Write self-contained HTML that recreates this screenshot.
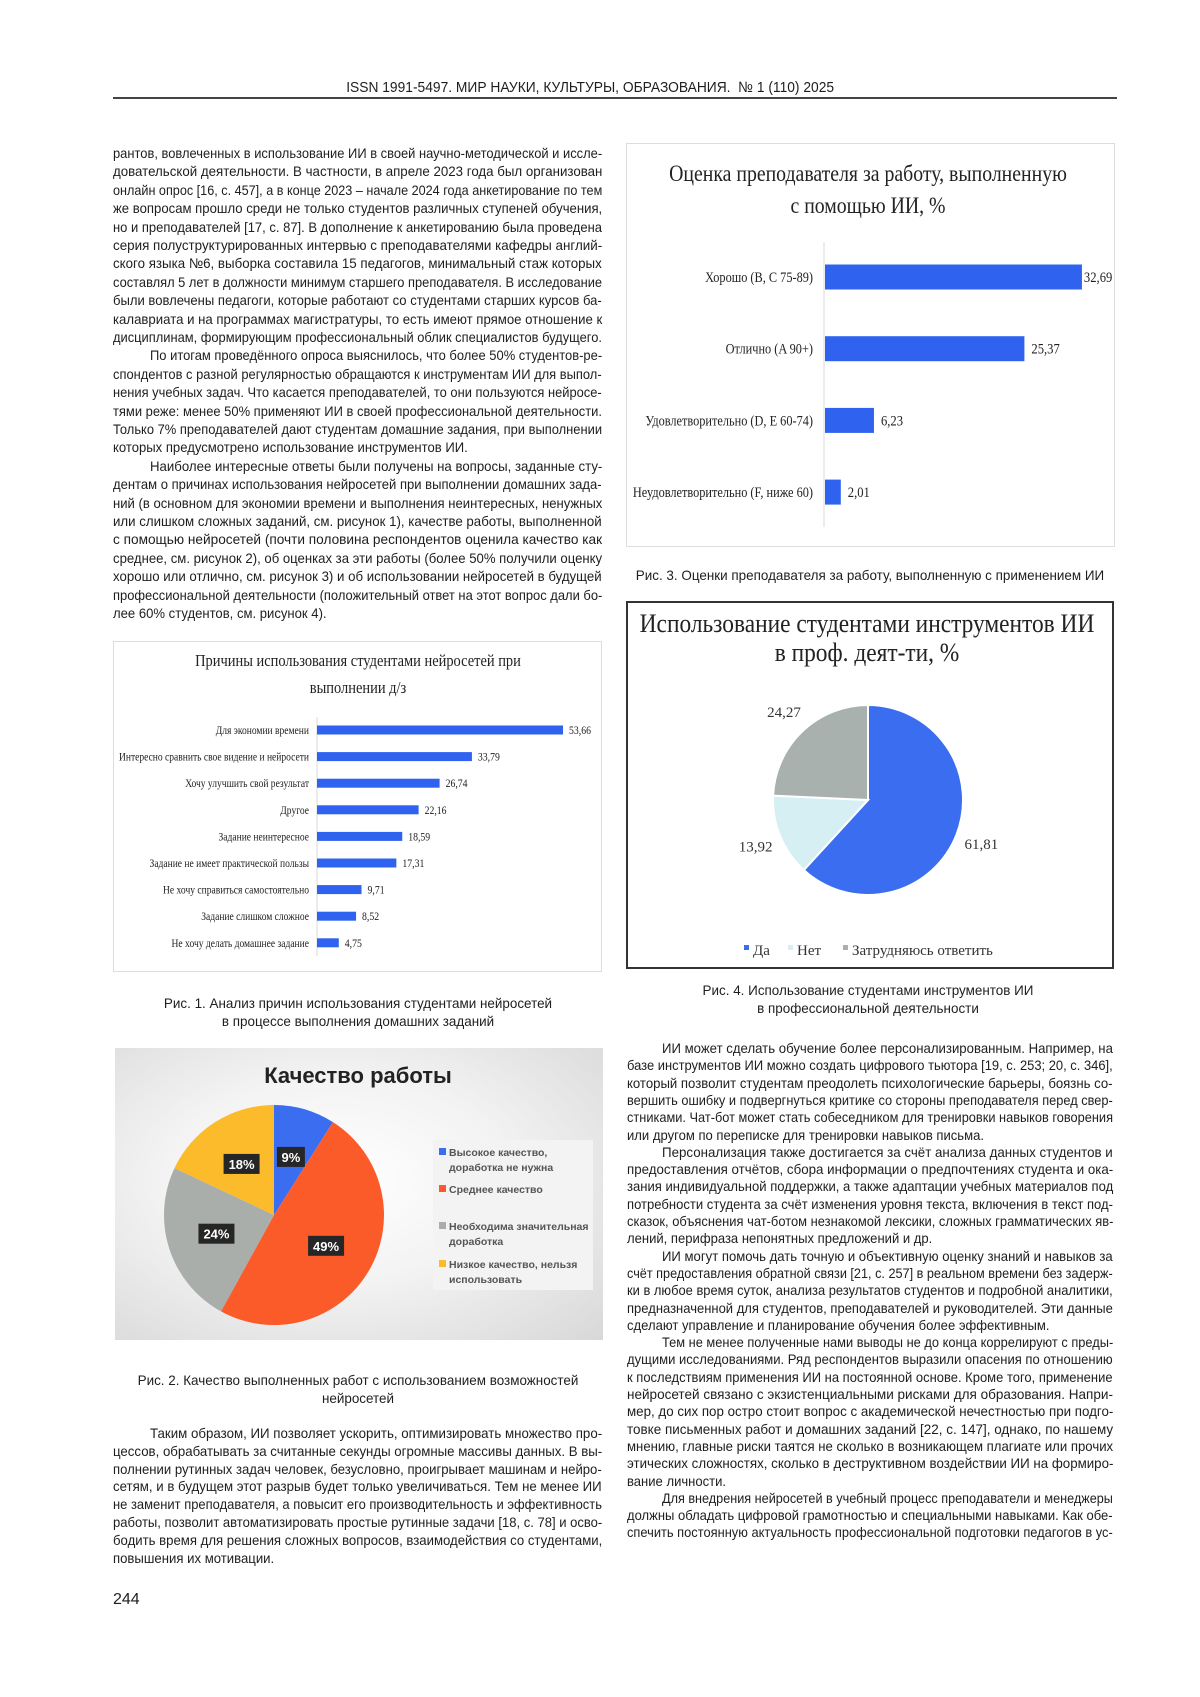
<!DOCTYPE html>
<html><head><meta charset="utf-8">
<style>
html,body{margin:0;padding:0;background:#fff;}
body{width:1200px;height:1697px;position:relative;overflow:hidden;font-family:"Liberation Sans","Noto Sans CJK SC",sans-serif;color:#1e1e1e;}
.ln{position:absolute;height:18px;line-height:18px;font-size:14px;white-space:nowrap;transform-origin:0 0;}
.cap{position:absolute;font-size:14px;text-align:center;line-height:18px;white-space:nowrap;transform:scaleX(0.96);transform-origin:50% 0;}
svg text{font-family:"Liberation Serif",serif;}
</style></head>
<body>

<div style="position:absolute;left:325px;top:78px;width:482px;font-size:15px;line-height:20px;white-space:nowrap;text-align:center;"><span style="display:inline-block;transform:scaleX(0.92);">ISSN 1991-5497. МИР НАУКИ, КУЛЬТУРЫ, ОБРАЗОВАНИЯ.&nbsp; № 1 (110) 2025</span></div>
<div style="position:absolute;left:113px;top:97px;width:1004px;height:2px;background:#444;"></div>

<div id="colA"></div>
<div id="colB"></div>
<div id="colC"></div>

<!-- Figure 1 -->
<div style="position:absolute;left:113px;top:641px;width:489px;height:331px;border:1px solid #ddd;box-sizing:border-box;"></div>
<svg id="fig1" width="1200" height="1697" style="position:absolute;left:0;top:0;pointer-events:none;">
<text x="358" y="666" text-anchor="middle" font-size="17" fill="#222" transform="translate(358 0) scale(0.85 1) translate(-358 0)">Причины использования студентами нейросетей при</text>
<text x="358" y="693" text-anchor="middle" font-size="17" fill="#222" transform="translate(358 0) scale(0.85 1) translate(-358 0)">выполнении д/з</text>
<line x1="317" y1="717" x2="317" y2="956" stroke="#d9d9d9" stroke-width="1"/>
</svg>
<div class="cap" style="left:58px;top:994px;width:600px;">Рис. 1. Анализ причин использования студентами нейросетей<br>в процессе выполнения домашних заданий</div>

<!-- Figure 2 -->
<div style="position:absolute;left:115px;top:1048px;width:488px;height:292px;background:radial-gradient(ellipse at 45% 45%,#ffffff 0%,#f3f3f3 45%,#d8d8d8 100%);"></div>
<svg id="fig2" width="1200" height="1697" style="position:absolute;left:0;top:0;pointer-events:none;">
<text x="358" y="1083" text-anchor="middle" font-size="22" font-weight="bold" fill="#222" style="font-family:'Liberation Sans',sans-serif;">Качество работы</text>
<rect x="433" y="1140" width="160" height="150" fill="#f3f3f3"/>
</svg>
<div class="cap" style="left:58px;top:1371px;width:600px;">Рис. 2. Качество выполненных работ с использованием возможностей<br>нейросетей</div>

<div style="position:absolute;left:113px;top:1590px;font-size:16px;line-height:20px;">244</div>

<!-- Figure 3 -->
<div style="position:absolute;left:626px;top:143px;width:489px;height:404px;border:1px solid #ddd;box-sizing:border-box;"></div>
<svg id="fig3" width="1200" height="1697" style="position:absolute;left:0;top:0;pointer-events:none;">
<text x="868" y="181" text-anchor="middle" font-size="23" fill="#222" transform="translate(868 0) scale(0.86 1) translate(-868 0)">Оценка преподавателя за работу, выполненную</text>
<text x="868" y="213" text-anchor="middle" font-size="23" fill="#222" transform="translate(868 0) scale(0.86 1) translate(-868 0)">с помощью ИИ, %</text>
<line x1="824" y1="242" x2="824" y2="527" stroke="#d9d9d9" stroke-width="1"/>
</svg>
<div class="cap" style="left:570px;top:566px;width:600px;">Рис. 3. Оценки преподавателя за работу, выполненную с применением ИИ</div>

<!-- Figure 4 -->
<div style="position:absolute;left:626px;top:601px;width:488px;height:368px;border:2px solid #333;box-sizing:border-box;"></div>
<svg id="fig4" width="1200" height="1697" style="position:absolute;left:0;top:0;pointer-events:none;">
<text x="867" y="632" text-anchor="middle" font-size="26" fill="#222" transform="translate(867 0) scale(0.9 1) translate(-867 0)">Использование студентами инструментов ИИ</text>
<text x="867" y="661" text-anchor="middle" font-size="26" fill="#222" transform="translate(867 0) scale(0.9 1) translate(-867 0)">в проф. деят-ти, %</text>
</svg>
<div class="cap" style="left:568px;top:981px;width:600px;">Рис. 4. Использование студентами инструментов ИИ<br>в профессиональной деятельности</div>

<script>
// ---------- chart data ----------
const cats1 = ["Для экономии времени","Интересно сравнить свое видение и нейросети","Хочу улучшить свой результат","Другое","Задание неинтересное","Задание не имеет практической пользы","Не хочу справиться самостоятельно","Задание слишком сложное","Не хочу делать домашнее задание"];
const vals1 = [53.66,33.79,26.74,22.16,18.59,17.31,9.71,8.52,4.75];
const labels1 = ["53,66","33,79","26,74","22,16","18,59","17,31","9,71","8,52","4,75"];

const cats2 = ["Высокое качество, доработка не нужна","Среднее качество","Необходима значительная доработка","Низкое качество, нельзя использовать"];
const vals2 = [9,49,24,18];

const cats3 = ["Хорошо (B, C 75-89)","Отлично (A 90+)","Удовлетворительно (D, E 60-74)","Неудовлетворительно (F, ниже 60)"];
const vals3 = [32.69,25.37,6.23,2.01];
const labels3 = ["32,69","25,37","6,23","2,01"];

const cats4 = ["Да","Нет","Затрудняюсь ответить"];
const vals4 = [61.81,13.92,24.27];
const labels4 = ["61,81","13,92","24,27"];

const NS="http://www.w3.org/2000/svg";
function mk(parent,tag,attrs){const e=document.createElementNS(NS,tag);for(const k in attrs)e.setAttribute(k,attrs[k]);parent.appendChild(e);return e;}

// ---------- Figure 1 ----------
(function(){
  const svg=document.getElementById('fig1');
  const x=v=>317+v*4.585, y=i=>730+i*26.6;
  cats1.forEach((c,i)=>{
    const r=mk(svg,'rect',{x:317,y:y(i)-4.5,width:x(vals1[i])-317,height:9,fill:'#2f63ef'});
    
    
    const t=mk(svg,'text',{x:309,y:y(i)+4,'text-anchor':'end','font-size':11.5,fill:'#222',transform:`translate(309 0) scale(0.83 1) translate(-309 0)`});
    t.textContent=c;
    
    
    const vx=x(vals1[i])+6;
    const v=mk(svg,'text',{x:vx,y:y(i)+4,'font-size':11.5,fill:'#222',transform:`translate(${vx} 0) scale(0.85 1) translate(${-vx} 0)`});
    v.textContent=labels1[i];
    
    
  });
})();

function arc(cx,cy,r,a0,a1){
  const p=a=>[cx+r*Math.sin(a),cy-r*Math.cos(a)];
  const [x0,y0]=p(a0),[x1,y1]=p(a1);
  return `M${cx},${cy} L${x0},${y0} A${r},${r} 0 ${a1-a0>Math.PI?1:0} 1 ${x1},${y1} Z`;
}

// ---------- Figure 2 ----------
(function(){
  const svg=document.getElementById('fig2');
  const cols=['#3a6df0','#fb5b28','#a9aeab','#fbbb2b'];
  const cx=274,cy=1215,r=110;
  const tot=vals2.reduce((a,b)=>a+b,0);
  let a=0;
  vals2.forEach((v,i)=>{
    const a1=a+v/tot*2*Math.PI;
    const s=mk(svg,'path',{d:arc(cx,cy,r,a,a1),fill:cols[i]});
    
    
    a=a1;
  });
  a=0;
  vals2.forEach((v,i)=>{
    const a1=a+v/tot*2*Math.PI, m=(a+a1)/2;
    const lx=cx+0.55*r*Math.sin(m), ly=cy-0.55*r*Math.cos(m);
    const w=v>=10?36:28;
    const b=mk(svg,'rect',{x:lx-w/2,y:ly-10,width:w,height:20,fill:'#262626'});
    
    
    const t=mk(svg,'text',{x:lx,y:ly+5,'text-anchor':'middle','font-size':13,'font-weight':'bold',fill:'#fff',style:"font-family:'Liberation Sans',sans-serif"});
    t.textContent=v+'%';
    
    
    a=a1;
  });
  const lines=[["Высокое качество,","доработка не нужна"],["Среднее качество"],["Необходима значительная","доработка"],["Низкое качество, нельзя","использовать"]];
  const ly=[1152,1189,1226,1264];
  cats2.forEach((c,i)=>{
    const m=mk(svg,'rect',{x:439,y:ly[i]-4,width:7,height:7,fill:cols[i]});
    
    
    lines[i].forEach((s,j)=>{
      const t=mk(svg,'text',{x:449,y:ly[i]+4+j*15,'font-size':10.5,'font-weight':'bold',fill:'#555',style:"font-family:'Liberation Sans',sans-serif"});
      t.textContent=s;
      
      
    });
  });
})();

// ---------- Figure 3 ----------
(function(){
  const svg=document.getElementById('fig3');
  const x=v=>824+v*7.86, y=i=>277+i*71.7;
  cats3.forEach((c,i)=>{
    const r=mk(svg,'rect',{x:825,y:y(i)-12.5,width:x(vals3[i])-824,height:25,fill:'#2f63ef'});
    
    
    const t=mk(svg,'text',{x:813,y:y(i)+5,'text-anchor':'end','font-size':14.5,fill:'#222',transform:`translate(813 0) scale(0.85 1) translate(-813 0)`});
    t.textContent=c;
    
    
    const vx=x(vals3[i])+(i===0?3:8);
    const v=mk(svg,'text',{x:vx,y:y(i)+5,'font-size':14.5,fill:'#222',transform:`translate(${vx} 0) scale(0.87 1) translate(${-vx} 0)`});
    v.textContent=labels3[i];
    
    
  });
})();

// ---------- Figure 4 ----------
(function(){
  const svg=document.getElementById('fig4');
  const cols=['#3a6df0','#d6eff3','#a9b1ae'];
  const cx=868,cy=800,r=95;
  const tot=vals4.reduce((a,b)=>a+b,0);
  let a=0;
  vals4.forEach((v,i)=>{
    const a1=a+v/tot*2*Math.PI, m=(a+a1)/2;
    const s=mk(svg,'path',{d:arc(cx,cy,r,a,a1),fill:cols[i],stroke:'#fff','stroke-width':2});
    
    
    const lx=cx+1.28*r*Math.sin(m), ly=cy-1.28*r*Math.cos(m);
    const t=mk(svg,'text',{x:lx,y:ly+5,'text-anchor':'middle','font-size':15,fill:'#333'});
    t.textContent=labels4[i];
    
    
    a=a1;
  });
  const mx=[744,788,843];
  cats4.forEach((c,i)=>{
    const m=mk(svg,'rect',{x:mx[i],y:945,width:5,height:5,fill:cols[i]});
    
    
    const t=mk(svg,'text',{x:mx[i]+9,y:955,'font-size':15,fill:'#333'});
    t.textContent=c;
    
    
  });
})();

// ---------- body text ----------
const textA=[
"рантов, вовлеченных в использование ИИ в своей научно-методической и иссле-",
"довательской деятельности. В частности, в апреле 2023 года был организован",
"онлайн опрос [16, с. 457], а в конце 2023 – начале 2024 года анкетирование по тем",
"же вопросам прошло среди не только студентов различных ступеней обучения,",
"но и преподавателей [17, с. 87]. В дополнение к анкетированию была проведена",
"серия полуструктурированных интервью с преподавателями кафедры англий-",
"ского языка №6, выборка составила 15 педагогов, минимальный стаж которых",
"составлял 5 лет в должности минимум старшего преподавателя. В исследование",
"были вовлечены педагоги, которые работают со студентами старших курсов ба-",
"калавриата и на программах магистратуры, то есть имеют прямое отношение к",
"дисциплинам, формирующим профессиональный облик специалистов будущего.|",
"»По итогам проведённого опроса выяснилось, что более 50% студентов-ре-",
"спондентов с разной регулярностью обращаются к инструментам ИИ для выпол-",
"нения учебных задач. Что касается преподавателей, то они пользуются нейросе-",
"тями реже: менее 50% применяют ИИ в своей профессиональной деятельности.",
"Только 7% преподавателей дают студентам домашние задания, при выполнении",
"которых предусмотрено использование инструментов ИИ.|",
"»Наиболее интересные ответы были получены на вопросы, заданные сту-",
"дентам о причинах использования нейросетей при выполнении домашних зада-",
"ний (в основном для экономии времени и выполнения неинтересных, ненужных",
"или слишком сложных заданий, см. рисунок 1), качестве работы, выполненной",
"с помощью нейросетей (почти половина респондентов оценила качество как",
"среднее, см. рисунок 2), об оценках за эти работы (более 50% получили оценку",
"хорошо или отлично, см. рисунок 3) и об использовании нейросетей в будущей",
"профессиональной деятельности (положительный ответ на этот вопрос дали бо-",
"лее 60% студентов, см. рисунок 4).|"];
const textB=[
"»Таким образом, ИИ позволяет ускорить, оптимизировать множество про-",
"цессов, обрабатывать за считанные секунды огромные массивы данных. В вы-",
"полнении рутинных задач человек, безусловно, проигрывает машинам и нейро-",
"сетям, и в будущем этот разрыв будет только увеличиваться. Тем не менее ИИ",
"не заменит преподавателя, а повысит его производительность и эффективность",
"работы, позволит автоматизировать простые рутинные задачи [18, с. 78] и осво-",
"бодить время для решения сложных вопросов, взаимодействия со студентами,",
"повышения их мотивации.|"];
const textC=[
"»ИИ может сделать обучение более персонализированным. Например, на",
"базе инструментов ИИ можно создать цифрового тьютора [19, с. 253; 20, с. 346],",
"который позволит студентам преодолеть психологические барьеры, боязнь со-",
"вершить ошибку и подвергнуться критике со стороны преподавателя перед свер-",
"стниками. Чат-бот может стать собеседником для тренировки навыков говорения",
"или другом по переписке для тренировки навыков письма.|",
"»Персонализация также достигается за счёт анализа данных студентов и",
"предоставления отчётов, сбора информации о предпочтениях студента и ока-",
"зания индивидуальной поддержки, а также адаптации учебных материалов под",
"потребности студента за счёт изменения уровня текста, включения в текст под-",
"сказок, объяснения чат-ботом незнакомой лексики, сложных грамматических яв-",
"лений, перифраза непонятных предложений и др.|",
"»ИИ могут помочь дать точную и объективную оценку знаний и навыков за",
"счёт предоставления обратной связи [21, с. 257] в реальном времени без задерж-",
"ки в любое время суток, анализа результатов студентов и подробной аналитики,",
"предназначенной для студентов, преподавателей и руководителей. Эти данные",
"сделают управление и планирование обучения более эффективным.|",
"»Тем не менее полученные нами выводы не до конца коррелируют с преды-",
"дущими исследованиями. Ряд респондентов выразили опасения по отношению",
"к последствиям применения ИИ на постоянной основе. Кроме того, применение",
"нейросетей связано с экзистенциальными рисками для образования. Напри-",
"мер, до сих пор остро стоит вопрос с академической нечестностью при подго-",
"товке письменных работ и домашних заданий [22, с. 147], однако, по нашему",
"мнению, главные риски таятся не сколько в возникающем плагиате или прочих",
"этических сложностях, сколько в деструктивном воздействии ИИ на формиро-",
"вание личности.|",
"»Для внедрения нейросетей в учебный процесс преподаватели и менеджеры",
"должны обладать цифровой грамотностью и специальными навыками. Как обе-",
"спечить постоянную актуальность профессиональной подготовки педагогов в ус-"];

function layout(id,lines,left,top,step,width,indent){
  const host=document.getElementById(id);
  const ends=[];let sum=0,n=0;
  lines.forEach((s,i)=>{
    let ind=s.startsWith('»'), end=s.endsWith('|');
    s=s.replace('»','').replace('|','');
    const d=document.createElement('div');
    d.className='ln';
    
    
    d.style.left=(left+(ind?indent:0))+'px';
    d.style.top=(top+i*step-9)+'px';
    d.textContent=s;
    host.appendChild(d);
    const target=width-(ind?indent:0);
    const nat=d.scrollWidth||1;
    const sc=target/nat;
    if(end){ends.push({d,sc});}
    else{sum+=sc;n++;d.style.transform='scaleX('+sc+')';}
  });
  const avg=n?sum/n:0.9;
  ends.forEach(o=>{o.d.style.transform='scaleX('+Math.min(o.sc,avg)+')';});
}
layout('colA',textA,113,153,18.4,489,37);
layout('colB',textB,113,1433,17.8,489,37);
layout('colC',textC,627,1048,17.3,486,35);
</script>
</body></html>
